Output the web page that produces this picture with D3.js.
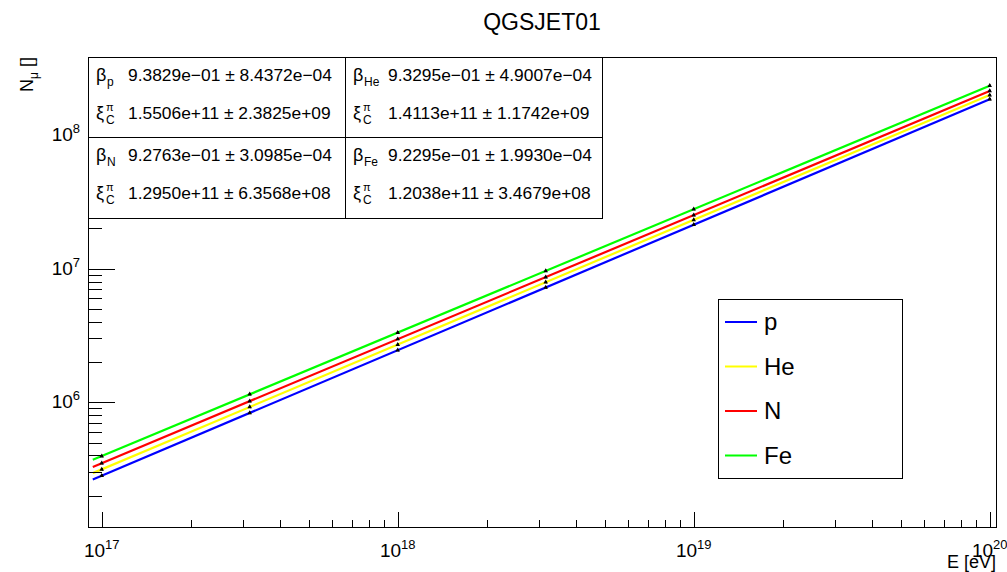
<!DOCTYPE html>
<html>
<head>
<meta charset="utf-8">
<script src="https://cdn.jsdelivr.net/npm/d3@7"></script>
<style>
body { margin: 0; background: #fff; }
text { font-family: "Liberation Sans", Arial, Helvetica, sans-serif; fill: #000; }
</style>
</head>
<body>
<div id="chart"></div>
<script>
// data
var energies = [1e17, 3.162e17, 1e18, 3.162e18, 1e19, 1e20];
var seriesNames = ["p", "He", "N", "Fe"];
var seriesColors = ["#0000ff", "#ffff00", "#ff0000", "#00ff00"];

var muP  = [2.83e5, 8.32e5, 2.45e6, 7.22e6, 2.13e7, 1.845e8];
var muHe = [3.15e5, 9.22e5, 2.70e6, 7.91e6, 2.31e7, 1.98e8];
var muN  = [3.50e5, 1.02e6, 2.97e6, 8.63e6, 2.51e7, 2.13e8];
var muFe = [3.96e5, 1.15e6, 3.32e6, 9.60e6, 2.78e7, 2.33e8];

var errP  = [6.0e3, 1.7e4, 5.0e4, 1.5e5, 4.3e5, 3.6e6];
var errHe = [6.5e3, 1.9e4, 5.5e4, 1.6e5, 4.6e5, 3.9e6];
var errN  = [7.0e3, 2.0e4, 6.0e4, 1.7e5, 5.0e5, 4.2e6];
var errFe = [8.0e3, 2.3e4, 6.6e4, 1.9e5, 5.5e5, 4.6e6];

// fitted lines (end points)
var fitE  = [9.33e16, 1e20];
var fitP  = [2.646e5, 1.845e8];
var fitHe = [2.952e5, 1.983e8];
var fitN  = [3.283e5, 2.126e8];
var fitFe = [3.715e5, 2.327e8];

var xTicks = [1e17, 1e18, 1e19, 1e20];
var yTicks = [1e6, 1e7, 1e8];

// fit results box
var betaSubs = ["p", "He", "N", "Fe"];
var betaVals = ["9.3829e\u221201", "9.3295e\u221201", "9.2763e\u221201", "9.2295e\u221201"];
var betaErrs = ["8.4372e\u221204", "4.9007e\u221204", "3.0985e\u221204", "1.9930e\u221204"];
var xiVals   = ["1.5506e+11", "1.4113e+11", "1.2950e+11", "1.2038e+11"];
var xiErrs   = ["2.3825e+09", "1.1742e+09", "6.3568e+08", "3.4679e+08"];

var seriesData = [muP, muHe, muN, muFe];
var seriesErr = [errP, errHe, errN, errFe];
var seriesFit = [fitP, fitHe, fitN, fitFe];

var W = 1007, H = 572;
var frame = { left: 88, right: 996, top: 57, bottom: 527 };

var svg = d3.select("#chart").append("svg")
    .attr("width", W)
    .attr("height", H);

var x = d3.scaleLog().domain([Math.pow(10, 16.9537), Math.pow(10, 20.0213)]).range([frame.left, frame.right]);
var y = d3.scaleLog().domain([Math.pow(10, 5.0672), Math.pow(10, 8.5820)]).range([frame.bottom, frame.top]);

// title
svg.append("text")
   .attr("x", 542).attr("y", 30)
   .attr("text-anchor", "middle")
   .style("font-size", "23px")
   .text("QGSJET01");

// fit lines
var line = d3.line()
    .x(function(d) { return x(d[0]); })
    .y(function(d) { return y(d[1]); });

seriesFit.forEach(function(f, i) {
  svg.append("path")
     .datum(fitE.map(function(e, j) { return [e, f[j]]; }))
     .attr("d", line)
     .attr("fill", "none")
     .attr("stroke", seriesColors[i])
     .attr("stroke-width", 2.2);
});

// data points with errors
seriesData.forEach(function(s, i) {
  var pts = energies.map(function(e, j) { return { e: e, v: s[j], err: seriesErr[i][j] }; });
  var g = svg.append("g");
  g.selectAll("line.err").data(pts).enter().append("line")
   .attr("x1", function(d) { return Math.round(x(d.e)) + 0.5; })
   .attr("x2", function(d) { return Math.round(x(d.e)) + 0.5; })
   .attr("y1", function(d) { return y(d.v - d.err); })
   .attr("y2", function(d) { return y(d.v + d.err); })
   .attr("stroke", "#000").attr("stroke-width", 1);
  g.selectAll("path.mk").data(pts).enter().append("path")
   .attr("d", d3.symbol().type(d3.symbolTriangle).size(9))
   .attr("transform", function(d) { return "translate(" + x(d.e) + "," + y(d.v) + ")"; })
   .attr("fill", "#000");
});

// frame
svg.append("rect")
   .attr("x", frame.left + 0.5).attr("y", frame.top + 0.5)
   .attr("width", frame.right - frame.left).attr("height", frame.bottom - frame.top)
   .attr("fill", "none").attr("stroke", "#000").attr("stroke-width", 1);

// x axis ticks (pointing up, inside frame)
var xt = svg.append("g").attr("shape-rendering", "crispEdges");
x.ticks().forEach(function(t) {
  var major = xTicks.indexOf(t) >= 0;
  var len = major ? 15 : 7;
  var px = Math.round(x(t)) + 0.5;
  xt.append("line")
    .attr("x1", px).attr("x2", px)
    .attr("y1", frame.bottom).attr("y2", frame.bottom - len)
    .attr("stroke", "#000");
});
xTicks.forEach(function(t) {
  var lab = svg.append("text")
     .attr("x", x(t)).attr("y", 557)
     .attr("text-anchor", "middle")
     .style("font-size", "19px");
  lab.append("tspan").text("10");
  lab.append("tspan").attr("dy", -8).style("font-size", "13px").text(Math.round(Math.log10(t)));
});

// y axis ticks (pointing right, inside frame)
var yt = svg.append("g").attr("shape-rendering", "crispEdges");
y.ticks().forEach(function(t) {
  var major = yTicks.indexOf(t) >= 0;
  var len = major ? 27 : 14;
  var py = Math.round(y(t)) + 0.5;
  yt.append("line")
    .attr("x1", frame.left).attr("x2", frame.left + len)
    .attr("y1", py).attr("y2", py)
    .attr("stroke", "#000");
});
yTicks.forEach(function(t) {
  var lab = svg.append("text")
     .attr("x", 80).attr("y", y(t) + 6)
     .attr("text-anchor", "end")
     .style("font-size", "19px");
  lab.append("tspan").text("10");
  lab.append("tspan").attr("dy", -8).style("font-size", "13px").text(Math.round(Math.log10(t)));
});

// axis titles
svg.append("text")
   .attr("x", 996).attr("y", 568)
   .attr("text-anchor", "end")
   .style("font-size", "18px")
   .text("E [eV]");

var yTitle = svg.append("text")
   .attr("transform", "translate(33,57) rotate(-90)")
   .attr("text-anchor", "end")
   .style("font-size", "18px");
yTitle.append("tspan").text("N");
yTitle.append("tspan").attr("dy", 5).style("font-size", "12px").text("\u03bc");
yTitle.append("tspan").attr("dy", -5).text(" []");

// fit results box
var box = { left: 88, top: 57, mid: 345, right: 602, row: 137, bottom: 218 };
var sb = svg.append("g");
sb.append("rect")
  .attr("x", box.left + 0.5).attr("y", box.top + 0.5)
  .attr("width", box.right - box.left).attr("height", box.bottom - box.top)
  .attr("fill", "#fff").attr("stroke", "#000").attr("stroke-width", 1)
  .attr("shape-rendering", "crispEdges");
sb.append("line")
  .attr("x1", box.mid + 0.5).attr("x2", box.mid + 0.5)
  .attr("y1", box.top).attr("y2", box.bottom)
  .attr("stroke", "#000").attr("shape-rendering", "crispEdges");
sb.append("line")
  .attr("x1", box.left).attr("x2", box.right)
  .attr("y1", box.row + 0.5).attr("y2", box.row + 0.5)
  .attr("stroke", "#000").attr("shape-rendering", "crispEdges");

var cellX = [box.left, box.mid, box.left, box.mid];
var cellY = [box.top, box.top, box.row, box.row];
var numX = [128, 388, 128, 388];
betaSubs.forEach(function(s, i) {
  var cx = cellX[i] + 8, cy = cellY[i];
  var b1 = cy + 24, b2 = cy + 62;
  sb.append("text").attr("x", cx).attr("y", b1).style("font-size", "18px").text("\u03b2");
  sb.append("text").attr("x", cx + 11).attr("y", b1 + 5).style("font-size", "12px").text(s);
  sb.append("text").attr("x", numX[i]).attr("y", b1).style("font-size", "17.4px")
    .text(betaVals[i] + " \u00b1 " + betaErrs[i]);
  sb.append("text").attr("x", cx).attr("y", b2).style("font-size", "18px").text("\u03be");
  sb.append("text").attr("x", cx + 10).attr("y", b2 - 8).style("font-size", "11px").text("\u03c0");
  sb.append("text").attr("x", cx + 10).attr("y", b2 + 5).style("font-size", "12px").text("C");
  sb.append("text").attr("x", numX[i]).attr("y", b2).style("font-size", "17.4px")
    .text(xiVals[i] + " \u00b1 " + xiErrs[i]);
});

// legend
var lg = svg.append("g");
lg.append("rect")
  .attr("x", 718.5).attr("y", 299.5).attr("width", 184).attr("height", 179)
  .attr("fill", "#fff").attr("stroke", "#000").attr("stroke-width", 1)
  .attr("shape-rendering", "crispEdges");
seriesNames.forEach(function(n, i) {
  var ly = 322 + i * 44.5;
  lg.append("line")
    .attr("x1", 725).attr("x2", 757)
    .attr("y1", ly).attr("y2", ly)
    .attr("stroke", seriesColors[i]).attr("stroke-width", 2);
  lg.append("text")
    .attr("x", 764).attr("y", ly + 8)
    .style("font-size", "24px")
    .text(n);
});
</script>
</body>
</html>
